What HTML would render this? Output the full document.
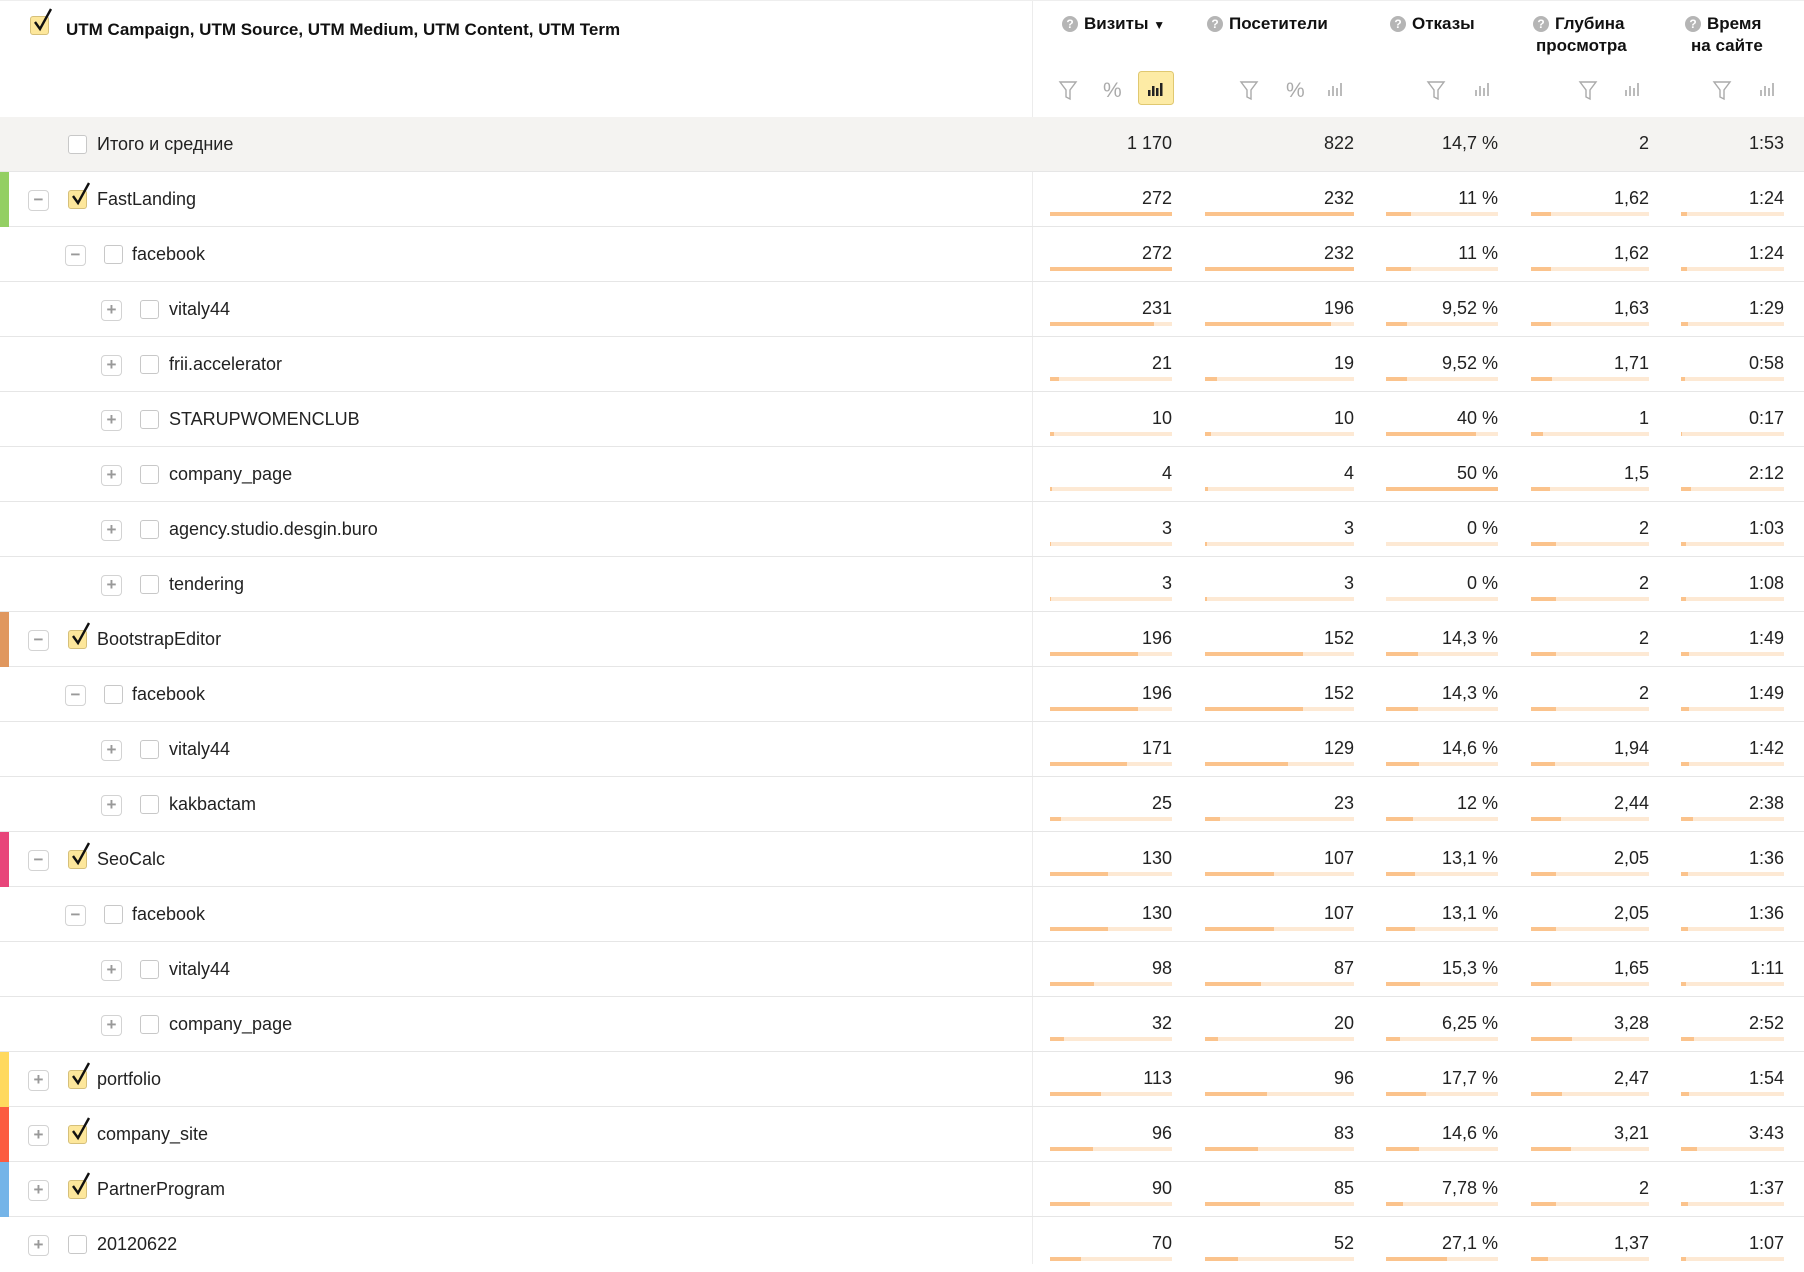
<!DOCTYPE html>
<html><head><meta charset="utf-8">
<style>
*{box-sizing:border-box;margin:0;padding:0}
body{width:1804px;height:1264px;overflow:hidden;background:#fff;font-family:"Liberation Sans",Arial,sans-serif;color:#222;position:relative}
.a{position:absolute}
.hd{font-weight:bold;font-size:17px;color:#111;white-space:nowrap}
.q{display:inline-block;width:16px;height:16px;border-radius:50%;background:#b5b5b5;color:#fff;font-size:12px;text-align:center;line-height:16px;vertical-align:1px;margin-right:6px}
.row{position:absolute;left:0;width:1804px;height:55px;border-bottom:1px solid #e6e6e6}
.strip{position:absolute;left:0;top:0;width:9px;height:55px}
.exp{position:absolute;top:18px;width:21px;height:21px;border:1px solid #d3d3d3;border-radius:4px;background:#fff;color:#999;font-size:17px;line-height:18px;text-align:center;font-weight:bold}
.cb{position:absolute;top:18px;width:19px;height:19px;border:1px solid #c8c8c8;border-radius:3px;background:#fff}
.cb.on{background:#fde79b;border-color:#d6c07a}
.cb.on svg{position:absolute;left:1px;top:-9px}
.lb{position:absolute;top:17px;font-size:18px;color:#222;white-space:nowrap}
.v{position:absolute;top:16px;font-size:18px;text-align:right;color:#222}
.bar{position:absolute;top:40px;height:4px;background:#fde9d4}
.bar i{display:block;height:4px;background:#fbc38c}
.c1{left:1050px;width:122px}.c2{left:1205px;width:149px}.c3{left:1386px;width:112px}.c4{left:1531px;width:118px}.c5{left:1681px;width:103px}
.ic{position:absolute;top:78px;color:#aaa;font-size:20px}
</style></head><body>
<div class="a" style="left:1032px;top:0;width:1px;height:1264px;background:#ececec"></div>
<div class="a" style="left:0;top:0;width:1804px;height:1px;background:#eee"></div>
<!-- header -->
<div class="cb on" style="left:30px;top:16px;position:absolute"><svg width="22" height="26" viewBox="0 0 22 26"><path d="M3 14 L8 21 L19 1" stroke="#111" stroke-width="2.4" fill="none"/></svg></div>
<div class="a hd" style="left:66px;top:20px">UTM Campaign, UTM Source, UTM Medium, UTM Content, UTM Term</div>
<div class="a hd" style="left:1062px;top:14px"><span class="q">?</span>Визиты <span style="font-size:12px">▼</span></div>
<div class="a hd" style="left:1207px;top:14px"><span class="q">?</span>Посетители</div>
<div class="a hd" style="left:1390px;top:14px"><span class="q">?</span>Отказы</div>
<div class="a hd" style="left:1533px;top:14px"><span class="q">?</span>Глубина</div>
<div class="a hd" style="left:1536px;top:36px">просмотра</div>
<div class="a hd" style="left:1685px;top:14px"><span class="q">?</span>Время</div>
<div class="a hd" style="left:1691px;top:36px">на сайте</div>
<svg class="a" style="left:0;top:0" width="1804" height="117">
<g fill="none" stroke="#aaa" stroke-width="1.4">
<path d="M1060 82 h16 l-6 8 v9 l-4 -2 v-7 z"/>
<path d="M1241 82 h16 l-6 8 v9 l-4 -2 v-7 z"/>
<path d="M1428 82 h16 l-6 8 v9 l-4 -2 v-7 z"/>
<path d="M1580 82 h16 l-6 8 v9 l-4 -2 v-7 z"/>
<path d="M1714 82 h16 l-6 8 v9 l-4 -2 v-7 z"/>
</g>
<rect x="1138.5" y="71.5" width="35" height="33" rx="3" fill="#fdeba5" stroke="#e0c870"/>
<g fill="#222"><rect x="1148" y="90" width="2.5" height="6"/><rect x="1152" y="86" width="2.5" height="10"/><rect x="1156" y="88" width="2.5" height="8"/><rect x="1160" y="83" width="2.5" height="13"/></g>
<g fill="#bbb">
<rect x="1328" y="90" width="2" height="6"/><rect x="1332" y="86" width="2" height="10"/><rect x="1336" y="88" width="2" height="8"/><rect x="1340" y="83" width="2" height="13"/>
<rect x="1475" y="90" width="2" height="6"/><rect x="1479" y="86" width="2" height="10"/><rect x="1483" y="88" width="2" height="8"/><rect x="1487" y="83" width="2" height="13"/>
<rect x="1625" y="90" width="2" height="6"/><rect x="1629" y="86" width="2" height="10"/><rect x="1633" y="88" width="2" height="8"/><rect x="1637" y="83" width="2" height="13"/>
<rect x="1760" y="90" width="2" height="6"/><rect x="1764" y="86" width="2" height="10"/><rect x="1768" y="88" width="2" height="8"/><rect x="1772" y="83" width="2" height="13"/>
</g>
<text x="1103" y="97" font-family="Liberation Sans" font-size="21" fill="#aaa">%</text>
<text x="1286" y="97" font-family="Liberation Sans" font-size="21" fill="#aaa">%</text>
</svg>

<!-- total -->
<div class="row" style="top:117px;background:#f4f3f1">
<div class="cb" style="left:68px"></div><div class="lb" style="left:97px">Итого и средние</div>
<div class="v c1">1 170</div><div class="v c2">822</div><div class="v c3">14,7 %</div><div class="v c4">2</div><div class="v c5">1:53</div>
</div>

<div class="row" style="top:172px"><div class="strip" style="background:#93cf63"></div>
<div class="exp" style="left:28px">−</div><div class="cb on" style="left:68px"><svg width="22" height="26" viewBox="0 0 22 26"><path d="M3 14 L8 21 L19 1" stroke="#111" stroke-width="2.4" fill="none"/></svg></div><div class="lb" style="left:97px">FastLanding</div>
<div class="v c1">272</div><div class="v c2">232</div><div class="v c3">11 %</div><div class="v c4">1,62</div><div class="v c5">1:24</div>
<div class="bar c1"><i style="width:122px"></i></div><div class="bar c2"><i style="width:149px"></i></div><div class="bar c3"><i style="width:25px"></i></div><div class="bar c4"><i style="width:20px"></i></div><div class="bar c5"><i style="width:6px"></i></div></div>

<div class="row" style="top:227px">
<div class="exp" style="left:65px">−</div><div class="cb" style="left:104px"></div><div class="lb" style="left:132px">facebook</div>
<div class="v c1">272</div><div class="v c2">232</div><div class="v c3">11 %</div><div class="v c4">1,62</div><div class="v c5">1:24</div>
<div class="bar c1"><i style="width:122px"></i></div><div class="bar c2"><i style="width:149px"></i></div><div class="bar c3"><i style="width:25px"></i></div><div class="bar c4"><i style="width:20px"></i></div><div class="bar c5"><i style="width:6px"></i></div></div>

<div class="row" style="top:282px">
<div class="exp" style="left:101px">+</div><div class="cb" style="left:140px"></div><div class="lb" style="left:169px">vitaly44</div>
<div class="v c1">231</div><div class="v c2">196</div><div class="v c3">9,52 %</div><div class="v c4">1,63</div><div class="v c5">1:29</div>
<div class="bar c1"><i style="width:104px"></i></div><div class="bar c2"><i style="width:126px"></i></div><div class="bar c3"><i style="width:21px"></i></div><div class="bar c4"><i style="width:20px"></i></div><div class="bar c5"><i style="width:7px"></i></div></div>

<div class="row" style="top:337px">
<div class="exp" style="left:101px">+</div><div class="cb" style="left:140px"></div><div class="lb" style="left:169px">frii.accelerator</div>
<div class="v c1">21</div><div class="v c2">19</div><div class="v c3">9,52 %</div><div class="v c4">1,71</div><div class="v c5">0:58</div>
<div class="bar c1"><i style="width:9px"></i></div><div class="bar c2"><i style="width:12px"></i></div><div class="bar c3"><i style="width:21px"></i></div><div class="bar c4"><i style="width:21px"></i></div><div class="bar c5"><i style="width:4px"></i></div></div>

<div class="row" style="top:392px">
<div class="exp" style="left:101px">+</div><div class="cb" style="left:140px"></div><div class="lb" style="left:169px">STARUPWOMENCLUB</div>
<div class="v c1">10</div><div class="v c2">10</div><div class="v c3">40 %</div><div class="v c4">1</div><div class="v c5">0:17</div>
<div class="bar c1"><i style="width:4px"></i></div><div class="bar c2"><i style="width:6px"></i></div><div class="bar c3"><i style="width:90px"></i></div><div class="bar c4"><i style="width:12px"></i></div><div class="bar c5"><i style="width:1px"></i></div></div>

<div class="row" style="top:447px">
<div class="exp" style="left:101px">+</div><div class="cb" style="left:140px"></div><div class="lb" style="left:169px">company_page</div>
<div class="v c1">4</div><div class="v c2">4</div><div class="v c3">50 %</div><div class="v c4">1,5</div><div class="v c5">2:12</div>
<div class="bar c1"><i style="width:2px"></i></div><div class="bar c2"><i style="width:3px"></i></div><div class="bar c3"><i style="width:112px"></i></div><div class="bar c4"><i style="width:19px"></i></div><div class="bar c5"><i style="width:10px"></i></div></div>

<div class="row" style="top:502px">
<div class="exp" style="left:101px">+</div><div class="cb" style="left:140px"></div><div class="lb" style="left:169px">agency.studio.desgin.buro</div>
<div class="v c1">3</div><div class="v c2">3</div><div class="v c3">0 %</div><div class="v c4">2</div><div class="v c5">1:03</div>
<div class="bar c1"><i style="width:1px"></i></div><div class="bar c2"><i style="width:2px"></i></div><div class="bar c3"><i style="width:0px"></i></div><div class="bar c4"><i style="width:25px"></i></div><div class="bar c5"><i style="width:5px"></i></div></div>

<div class="row" style="top:557px">
<div class="exp" style="left:101px">+</div><div class="cb" style="left:140px"></div><div class="lb" style="left:169px">tendering</div>
<div class="v c1">3</div><div class="v c2">3</div><div class="v c3">0 %</div><div class="v c4">2</div><div class="v c5">1:08</div>
<div class="bar c1"><i style="width:1px"></i></div><div class="bar c2"><i style="width:2px"></i></div><div class="bar c3"><i style="width:0px"></i></div><div class="bar c4"><i style="width:25px"></i></div><div class="bar c5"><i style="width:5px"></i></div></div>

<div class="row" style="top:612px"><div class="strip" style="background:#e0975e"></div>
<div class="exp" style="left:28px">−</div><div class="cb on" style="left:68px"><svg width="22" height="26" viewBox="0 0 22 26"><path d="M3 14 L8 21 L19 1" stroke="#111" stroke-width="2.4" fill="none"/></svg></div><div class="lb" style="left:97px">BootstrapEditor</div>
<div class="v c1">196</div><div class="v c2">152</div><div class="v c3">14,3 %</div><div class="v c4">2</div><div class="v c5">1:49</div>
<div class="bar c1"><i style="width:88px"></i></div><div class="bar c2"><i style="width:98px"></i></div><div class="bar c3"><i style="width:32px"></i></div><div class="bar c4"><i style="width:25px"></i></div><div class="bar c5"><i style="width:8px"></i></div></div>

<div class="row" style="top:667px">
<div class="exp" style="left:65px">−</div><div class="cb" style="left:104px"></div><div class="lb" style="left:132px">facebook</div>
<div class="v c1">196</div><div class="v c2">152</div><div class="v c3">14,3 %</div><div class="v c4">2</div><div class="v c5">1:49</div>
<div class="bar c1"><i style="width:88px"></i></div><div class="bar c2"><i style="width:98px"></i></div><div class="bar c3"><i style="width:32px"></i></div><div class="bar c4"><i style="width:25px"></i></div><div class="bar c5"><i style="width:8px"></i></div></div>

<div class="row" style="top:722px">
<div class="exp" style="left:101px">+</div><div class="cb" style="left:140px"></div><div class="lb" style="left:169px">vitaly44</div>
<div class="v c1">171</div><div class="v c2">129</div><div class="v c3">14,6 %</div><div class="v c4">1,94</div><div class="v c5">1:42</div>
<div class="bar c1"><i style="width:77px"></i></div><div class="bar c2"><i style="width:83px"></i></div><div class="bar c3"><i style="width:33px"></i></div><div class="bar c4"><i style="width:24px"></i></div><div class="bar c5"><i style="width:8px"></i></div></div>

<div class="row" style="top:777px">
<div class="exp" style="left:101px">+</div><div class="cb" style="left:140px"></div><div class="lb" style="left:169px">kakbactam</div>
<div class="v c1">25</div><div class="v c2">23</div><div class="v c3">12 %</div><div class="v c4">2,44</div><div class="v c5">2:38</div>
<div class="bar c1"><i style="width:11px"></i></div><div class="bar c2"><i style="width:15px"></i></div><div class="bar c3"><i style="width:27px"></i></div><div class="bar c4"><i style="width:30px"></i></div><div class="bar c5"><i style="width:12px"></i></div></div>

<div class="row" style="top:832px"><div class="strip" style="background:#e8457a"></div>
<div class="exp" style="left:28px">−</div><div class="cb on" style="left:68px"><svg width="22" height="26" viewBox="0 0 22 26"><path d="M3 14 L8 21 L19 1" stroke="#111" stroke-width="2.4" fill="none"/></svg></div><div class="lb" style="left:97px">SeoCalc</div>
<div class="v c1">130</div><div class="v c2">107</div><div class="v c3">13,1 %</div><div class="v c4">2,05</div><div class="v c5">1:36</div>
<div class="bar c1"><i style="width:58px"></i></div><div class="bar c2"><i style="width:69px"></i></div><div class="bar c3"><i style="width:29px"></i></div><div class="bar c4"><i style="width:25px"></i></div><div class="bar c5"><i style="width:7px"></i></div></div>

<div class="row" style="top:887px">
<div class="exp" style="left:65px">−</div><div class="cb" style="left:104px"></div><div class="lb" style="left:132px">facebook</div>
<div class="v c1">130</div><div class="v c2">107</div><div class="v c3">13,1 %</div><div class="v c4">2,05</div><div class="v c5">1:36</div>
<div class="bar c1"><i style="width:58px"></i></div><div class="bar c2"><i style="width:69px"></i></div><div class="bar c3"><i style="width:29px"></i></div><div class="bar c4"><i style="width:25px"></i></div><div class="bar c5"><i style="width:7px"></i></div></div>

<div class="row" style="top:942px">
<div class="exp" style="left:101px">+</div><div class="cb" style="left:140px"></div><div class="lb" style="left:169px">vitaly44</div>
<div class="v c1">98</div><div class="v c2">87</div><div class="v c3">15,3 %</div><div class="v c4">1,65</div><div class="v c5">1:11</div>
<div class="bar c1"><i style="width:44px"></i></div><div class="bar c2"><i style="width:56px"></i></div><div class="bar c3"><i style="width:34px"></i></div><div class="bar c4"><i style="width:20px"></i></div><div class="bar c5"><i style="width:5px"></i></div></div>

<div class="row" style="top:997px">
<div class="exp" style="left:101px">+</div><div class="cb" style="left:140px"></div><div class="lb" style="left:169px">company_page</div>
<div class="v c1">32</div><div class="v c2">20</div><div class="v c3">6,25 %</div><div class="v c4">3,28</div><div class="v c5">2:52</div>
<div class="bar c1"><i style="width:14px"></i></div><div class="bar c2"><i style="width:13px"></i></div><div class="bar c3"><i style="width:14px"></i></div><div class="bar c4"><i style="width:41px"></i></div><div class="bar c5"><i style="width:13px"></i></div></div>

<div class="row" style="top:1052px"><div class="strip" style="background:#ffd95e"></div>
<div class="exp" style="left:28px">+</div><div class="cb on" style="left:68px"><svg width="22" height="26" viewBox="0 0 22 26"><path d="M3 14 L8 21 L19 1" stroke="#111" stroke-width="2.4" fill="none"/></svg></div><div class="lb" style="left:97px">portfolio</div>
<div class="v c1">113</div><div class="v c2">96</div><div class="v c3">17,7 %</div><div class="v c4">2,47</div><div class="v c5">1:54</div>
<div class="bar c1"><i style="width:51px"></i></div><div class="bar c2"><i style="width:62px"></i></div><div class="bar c3"><i style="width:40px"></i></div><div class="bar c4"><i style="width:31px"></i></div><div class="bar c5"><i style="width:8px"></i></div></div>

<div class="row" style="top:1107px"><div class="strip" style="background:#fc5b40"></div>
<div class="exp" style="left:28px">+</div><div class="cb on" style="left:68px"><svg width="22" height="26" viewBox="0 0 22 26"><path d="M3 14 L8 21 L19 1" stroke="#111" stroke-width="2.4" fill="none"/></svg></div><div class="lb" style="left:97px">company_site</div>
<div class="v c1">96</div><div class="v c2">83</div><div class="v c3">14,6 %</div><div class="v c4">3,21</div><div class="v c5">3:43</div>
<div class="bar c1"><i style="width:43px"></i></div><div class="bar c2"><i style="width:53px"></i></div><div class="bar c3"><i style="width:33px"></i></div><div class="bar c4"><i style="width:40px"></i></div><div class="bar c5"><i style="width:16px"></i></div></div>

<div class="row" style="top:1162px"><div class="strip" style="background:#74b4e8"></div>
<div class="exp" style="left:28px">+</div><div class="cb on" style="left:68px"><svg width="22" height="26" viewBox="0 0 22 26"><path d="M3 14 L8 21 L19 1" stroke="#111" stroke-width="2.4" fill="none"/></svg></div><div class="lb" style="left:97px">PartnerProgram</div>
<div class="v c1">90</div><div class="v c2">85</div><div class="v c3">7,78 %</div><div class="v c4">2</div><div class="v c5">1:37</div>
<div class="bar c1"><i style="width:40px"></i></div><div class="bar c2"><i style="width:55px"></i></div><div class="bar c3"><i style="width:17px"></i></div><div class="bar c4"><i style="width:25px"></i></div><div class="bar c5"><i style="width:7px"></i></div></div>

<div class="row" style="top:1217px;border:none">
<div class="exp" style="left:28px">+</div><div class="cb" style="left:68px"></div><div class="lb" style="left:97px">20120622</div>
<div class="v c1">70</div><div class="v c2">52</div><div class="v c3">27,1 %</div><div class="v c4">1,37</div><div class="v c5">1:07</div>
<div class="bar c1"><i style="width:31px"></i></div><div class="bar c2"><i style="width:33px"></i></div><div class="bar c3"><i style="width:61px"></i></div><div class="bar c4"><i style="width:17px"></i></div><div class="bar c5"><i style="width:5px"></i></div></div>
</body></html>
